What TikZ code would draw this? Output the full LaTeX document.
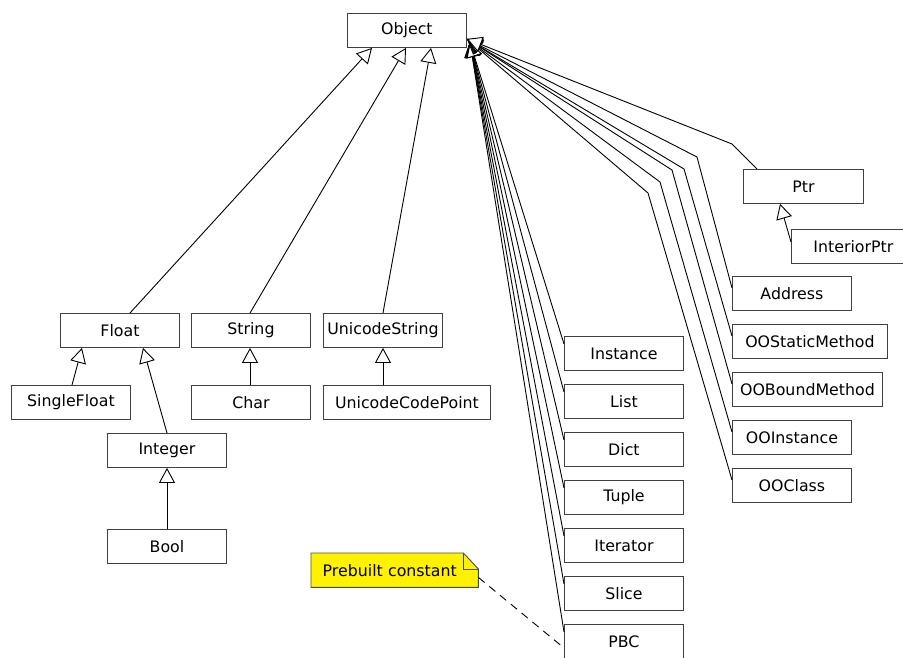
\documentclass[tikz,border=0pt]{standalone}
\usepackage{fontspec}
\setmainfont{DejaVu Sans}
\usetikzlibrary{arrows.meta,backgrounds}

\begin{document}
\begin{tikzpicture}[x=1pt,y=-1pt,
  font=\fontsize{15.8}{18}\selectfont,
  cls/.style={draw=black!75, fill=white, anchor=north west, inner sep=0pt,
              minimum height=34pt, minimum width=119pt, line width=0.9pt},
  inh/.style={-{Triangle[fill=white, length=15pt, width=16pt, line width=0.9pt]},
              line width=0.9pt, black},
  notelink/.style={dashed, dash pattern=on 8pt off 6pt, line width=0.9pt}]

\useasboundingbox (0,0) rectangle (903,657);
\clip (0,0) rectangle (903,657);

% ---- classes ----
\node[cls] (Object) at (347,13) {Object};

\node[cls] (Float) at (60,313) {Float};
\node[cls] (String) at (191,313) {String};
\node[cls] (UnicodeString) at (323,313) {UnicodeString};
\node[cls] (SingleFloat) at (11,385) {SingleFloat};
\node[cls] (Char) at (191,385) {Char};
\node[cls, minimum width=167pt] (UnicodeCodePoint) at (323,385) {UnicodeCodePoint};
\node[cls] (Integer) at (107,433) {Integer};
\node[cls] (Bool) at (107,529) {Bool};

\node[cls, minimum width=120pt] (Ptr) at (743,169) {Ptr};
\node[cls, minimum width=122pt, align=left, text width=110pt] (InteriorPtr) at (791,229) {\hspace*{16pt}InteriorPtr};
\node[cls] (Address) at (732,276) {Address};
\node[cls, minimum width=155pt] (OOStaticMethod) at (732,324) {OOStaticMethod};
\node[cls, minimum width=150pt] (OOBoundMethod) at (732,372) {OOBoundMethod};
\node[cls] (OOInstance) at (732,420) {OOInstance};
\node[cls] (OOClass) at (732,468) {OOClass};

\node[cls] (Instance) at (564,336) {Instance};
\node[cls] (List) at (564,384) {List};
\node[cls] (Dict) at (564,432) {Dict};
\node[cls] (Tuple) at (564,480) {Tuple};
\node[cls] (Iterator) at (564,528) {Iterator};
\node[cls] (Slice) at (564,576) {Slice};
\node[cls] (PBC) at (564,624) {PBC};

% ---- note ----
\node[anchor=north west, inner sep=0pt, minimum width=167pt, minimum height=34pt,
      text width=160pt, align=left] (note) at (311,553) {\hspace*{8pt}Prebuilt constant};
\begin{scope}[on background layer]
  \draw[draw=black!70, fill=yellow, line width=0.9pt]
    (note.north west) -- ([xshift=-15pt]note.north east) -- ([yshift=-16pt]note.north east)
    -- (note.south east) -- (note.south west) -- cycle;
  \draw[draw=black!70, line width=0.9pt]
    ([xshift=-15pt]note.north east) -- ([xshift=-15pt,yshift=-16pt]note.north east)
    -- ([yshift=-16pt]note.north east);
\end{scope}
\draw[notelink] ([yshift=10pt]note.south east) -- ([yshift=-24pt]PBC.north west);

% ---- inheritance: left part ----
\draw[inh] ([xshift=70pt]Float.north west) -- ([xshift=25pt]Object.south west);
\draw[inh] ([xshift=59pt]String.north west) -- ([xshift=59pt]Object.south west);
\draw[inh] ([xshift=60pt]UnicodeString.north west) -- ([xshift=84pt]Object.south west);
\draw[inh] ([xshift=61pt]SingleFloat.north west) -- ([xshift=22pt]Float.south west);
\draw[inh] ([xshift=60pt]Integer.north west) -- ([xshift=83pt]Float.south west);
\draw[inh] ([xshift=60pt]Bool.north west) -- ([xshift=60pt]Integer.south west);
\draw[inh] ([xshift=59pt]Char.north west) -- ([xshift=59pt]String.south west);
\draw[inh] ([xshift=60pt]UnicodeCodePoint.north west) -- ([xshift=60pt]UnicodeString.south west);

% ---- inheritance: builtin containers ----
\foreach \c in {PBC, Slice, Iterator, Tuple, Dict, List, Instance}
  \draw[inh] ([yshift=-8pt]\c.north west) -- ([xshift=3pt,yshift=6pt]Object.south east);

% ---- inheritance: right column (bent connectors) ----
\draw[inh] ([yshift=-12pt]OOClass.north west) -- (648,193) -- ([yshift=9pt]Object.south east);
\draw[inh] ([yshift=-12pt]OOInstance.north west) -- (660,182) -- ([yshift=9pt]Object.south east);
\draw[inh] ([yshift=-12pt]OOBoundMethod.north west) -- (672,170) -- ([yshift=9pt]Object.south east);
\draw[inh] ([yshift=-12pt]OOStaticMethod.north west) -- (684,169) -- ([yshift=9pt]Object.south east);
\draw[inh] ([yshift=-12pt]Address.north west) -- (697,157) -- ([yshift=9pt]Object.south east);
\draw[inh] ([xshift=14pt]Ptr.north west) -- (732,144) -- ([yshift=9pt]Object.south east);
\draw[inh] ([yshift=-13pt]InteriorPtr.north west) -- ([xshift=37pt]Ptr.south west);

\end{tikzpicture}
\end{document}
